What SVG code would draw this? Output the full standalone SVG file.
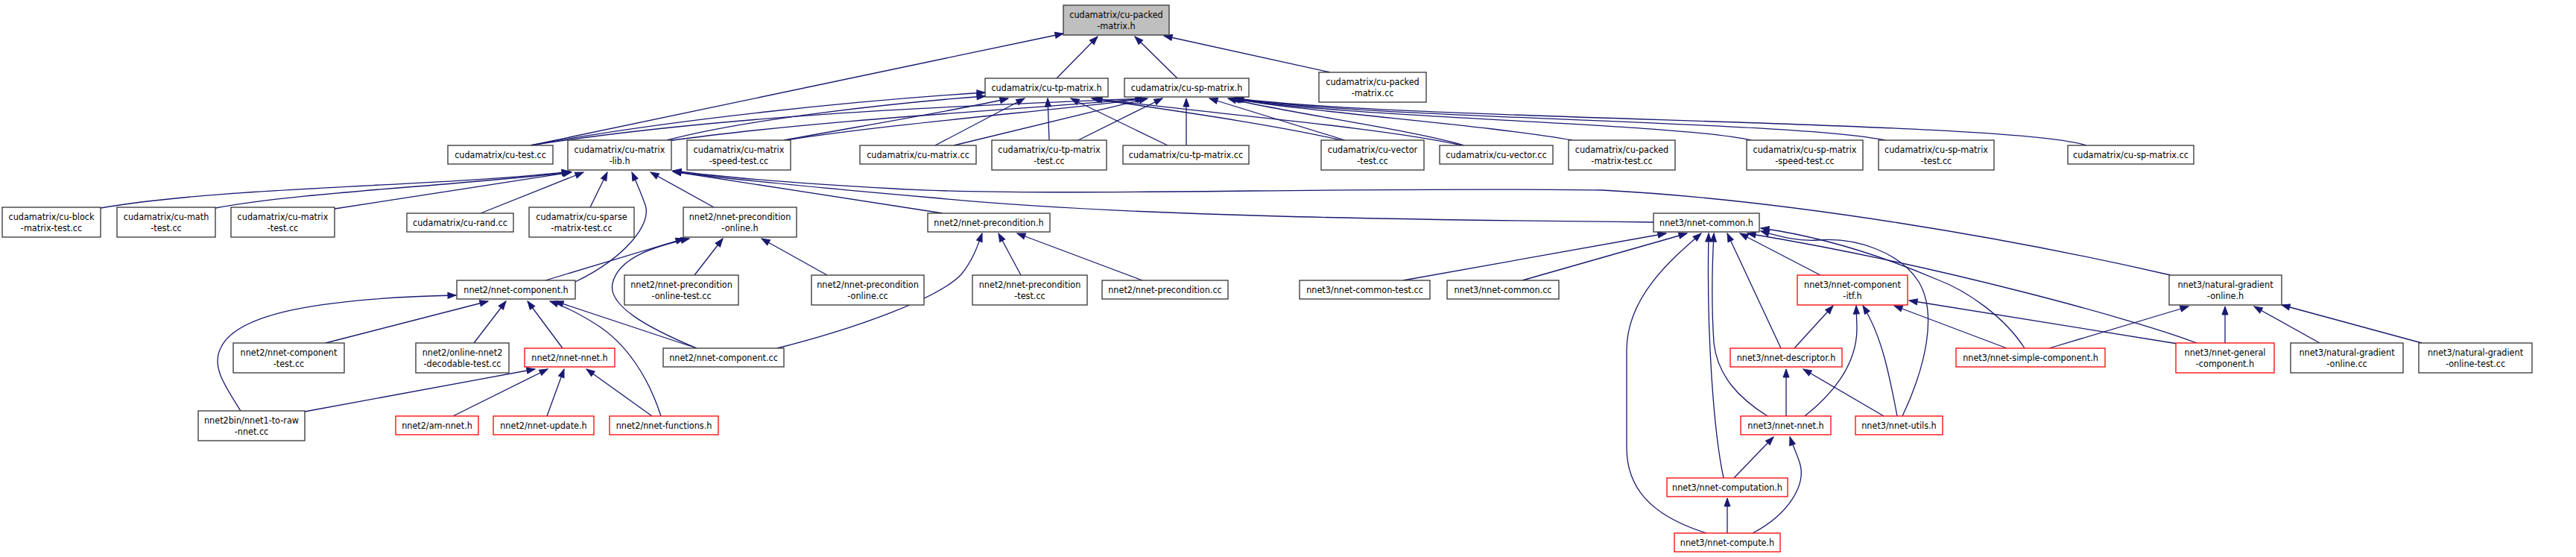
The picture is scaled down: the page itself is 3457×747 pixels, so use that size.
<svg xmlns="http://www.w3.org/2000/svg" width="3457" height="747" viewBox="0 0 3457 747">
<style>
.n rect{fill:#fff;stroke:#333;stroke-width:1.3}
.n.r rect{stroke:#f00}
.n.g rect{fill:#bfbfbf}
text{font-family:"DejaVu Sans Condensed","Liberation Sans",sans-serif;font-size:12.5px;text-anchor:middle;fill:#000}
#edges path{fill:none;stroke:#191970;stroke-width:1.3;marker-end:url(#ah)}
</style>
<defs>
<marker id="ah" markerUnits="userSpaceOnUse" markerWidth="13" markerHeight="10" refX="11" refY="4.5" orient="auto" overflow="visible">
<path d="M0,0.5 L11,4.5 L0,8.5 Z" fill="#191970" stroke="#191970" stroke-width="1"/>
</marker>
</defs>
<rect width="3457" height="747" fill="#fff"/>
<g id="edges">
<path d="M712,195 L1427,45"/>
<path d="M1418,105 L1473,49"/>
<path d="M1580,105 L1523,49"/>
<path d="M1785,97 L1562,48"/>
<path d="M712,195 C900,160 1150,135 1322,124"/>
<path d="M895,188 C1000,160 1200,138 1322,129"/>
<path d="M1052,188 C1150,170 1300,145 1353,132"/>
<path d="M1255,195 L1375,132"/>
<path d="M1408,188 L1406,132"/>
<path d="M1567,195 L1437,132"/>
<path d="M1800,188 C1700,165 1550,145 1465,132"/>
<path d="M1962,195 C1850,170 1600,150 1468,132"/>
<path d="M712,195 C1000,150 1350,140 1535,132"/>
<path d="M897,189 C1100,160 1400,145 1535,132"/>
<path d="M1055,188 C1200,165 1450,145 1537,132"/>
<path d="M1280,195 L1540,132"/>
<path d="M1447,188 L1560,132"/>
<path d="M1592,195 L1592,132"/>
<path d="M1805,188 L1623,132"/>
<path d="M1965,195 C1900,175 1720,150 1648,132"/>
<path d="M2110,188 C2000,168 1750,150 1652,132"/>
<path d="M2350,188 C2250,165 1800,158 1654,132"/>
<path d="M2530,188 C2400,162 1850,160 1656,132"/>
<path d="M2800,195 C2700,162 1900,162 1658,132"/>
<path d="M135,279 C300,250 600,250 765,230"/>
<path d="M289,279 C400,258 600,250 766,231"/>
<path d="M449,280 L767,231"/>
<path d="M645,286 L783,231"/>
<path d="M792,278 L815,231"/>
<path d="M772,378 C840,345 875,300 866,275 C860,258 853,242 848,231"/>
<path d="M958,278 L873,231"/>
<path d="M1265,286 L903,230"/>
<path d="M2219,298 C1900,295 1500,290 1250,265 C1100,252 960,238 903,230"/>
<path d="M2913,369 C2700,320 2400,268 2150,255 C1800,250 1400,265 1200,253 C1050,245 950,235 903,229"/>
<path d="M732,376 L918,320"/>
<path d="M935,467 C870,440 815,410 822,380 C830,345 880,330 925,320"/>
<path d="M932,369 L970,320"/>
<path d="M1110,369 L1022,320"/>
<path d="M1043,467 C1150,440 1260,400 1290,368 C1305,350 1312,330 1318,313"/>
<path d="M1370,369 L1340,313"/>
<path d="M1533,376 L1365,313"/>
<path d="M323,551 C300,515 283,490 297,465 C320,420 430,400 612,396"/>
<path d="M437,460 L655,404"/>
<path d="M636,460 L679,404"/>
<path d="M755,467 L708,404"/>
<path d="M887,558 C870,505 840,460 800,435 C778,421 758,411 738,404"/>
<path d="M935,467 L745,404"/>
<path d="M409,552 L718,495"/>
<path d="M608,558 L735,495"/>
<path d="M734,558 L757,495"/>
<path d="M875,558 L787,495"/>
<path d="M1883,376 L2236,313"/>
<path d="M2043,376 L2264,313"/>
<path d="M2290,715 C2210,690 2183,650 2183,600 L2183,470 C2183,400 2240,350 2283,313"/>
<path d="M2313,641 C2300,580 2290,450 2293,313"/>
<path d="M2372,558 C2335,535 2305,505 2300,460 C2296,400 2298,350 2300,313"/>
<path d="M2390,467 L2318,313"/>
<path d="M2443,369 L2335,313"/>
<path d="M2948,460 C2870,430 2600,355 2345,313"/>
<path d="M2717,467 C2690,425 2640,390 2600,375 C2530,345 2450,318 2363,306"/>
<path d="M2553,558 C2585,490 2600,420 2575,378 C2550,338 2490,318 2440,322 C2410,324 2385,316 2363,310"/>
<path d="M2408,467 L2460,410"/>
<path d="M2422,558 C2470,520 2492,480 2492,440 L2491,410"/>
<path d="M2546,558 C2535,500 2525,450 2500,410"/>
<path d="M2693,467 L2542,410"/>
<path d="M2922,461 L2562,403"/>
<path d="M2750,467 L2937,411"/>
<path d="M2986,460 L2986,411"/>
<path d="M3113,460 L3025,411"/>
<path d="M3250,460 L3062,409"/>
<path d="M2397,558 L2397,495"/>
<path d="M2528,558 L2420,495"/>
<path d="M2327,641 L2380,586"/>
<path d="M2352,715 C2400,690 2425,650 2415,620 C2410,605 2405,595 2402,586"/>
<path d="M2318,715 L2318,668"/>
</g>
<g id="n0" class="n g"><rect x="1427" y="7" width="142" height="40"/><text x="1498" y="23.5">cudamatrix/cu-packed</text><text x="1498" y="38.5">-matrix.h</text></g>
<g id="n1" class="n"><rect x="1322" y="105" width="165" height="25"/><text x="1404.5" y="121.5">cudamatrix/cu-tp-matrix.h</text></g>
<g id="n2" class="n"><rect x="1509" y="105" width="167" height="25"/><text x="1592.5" y="121.5">cudamatrix/cu-sp-matrix.h</text></g>
<g id="n3" class="n"><rect x="1770" y="97" width="144" height="40"/><text x="1842" y="113.5">cudamatrix/cu-packed</text><text x="1842" y="128.5">-matrix.cc</text></g>
<g id="n4" class="n"><rect x="601" y="195" width="141" height="25"/><text x="671.5" y="211.5">cudamatrix/cu-test.cc</text></g>
<g id="n5" class="n"><rect x="762" y="188" width="139" height="40"/><text x="831.5" y="204.5">cudamatrix/cu-matrix</text><text x="831.5" y="219.5">-lib.h</text></g>
<g id="n6" class="n"><rect x="922" y="188" width="139" height="40"/><text x="991.5" y="204.5">cudamatrix/cu-matrix</text><text x="991.5" y="219.5">-speed-test.cc</text></g>
<g id="n7" class="n"><rect x="1154" y="195" width="156" height="25"/><text x="1232" y="211.5">cudamatrix/cu-matrix.cc</text></g>
<g id="n8" class="n"><rect x="1331" y="188" width="154" height="40"/><text x="1408" y="204.5">cudamatrix/cu-tp-matrix</text><text x="1408" y="219.5">-test.cc</text></g>
<g id="n9" class="n"><rect x="1507" y="195" width="169" height="25"/><text x="1591.5" y="211.5">cudamatrix/cu-tp-matrix.cc</text></g>
<g id="n10" class="n"><rect x="1773" y="188" width="138" height="40"/><text x="1842" y="204.5">cudamatrix/cu-vector</text><text x="1842" y="219.5">-test.cc</text></g>
<g id="n11" class="n"><rect x="1932" y="195" width="152" height="25"/><text x="2008" y="211.5">cudamatrix/cu-vector.cc</text></g>
<g id="n12" class="n"><rect x="2105" y="188" width="143" height="40"/><text x="2176.5" y="204.5">cudamatrix/cu-packed</text><text x="2176.5" y="219.5">-matrix-test.cc</text></g>
<g id="n13" class="n"><rect x="2344" y="188" width="156" height="40"/><text x="2422" y="204.5">cudamatrix/cu-sp-matrix</text><text x="2422" y="219.5">-speed-test.cc</text></g>
<g id="n14" class="n"><rect x="2521" y="188" width="155" height="40"/><text x="2598.5" y="204.5">cudamatrix/cu-sp-matrix</text><text x="2598.5" y="219.5">-test.cc</text></g>
<g id="n15" class="n"><rect x="2775" y="195" width="169" height="25"/><text x="2859.5" y="211.5">cudamatrix/cu-sp-matrix.cc</text></g>
<g id="n16" class="n"><rect x="3" y="278" width="132" height="40"/><text x="69" y="294.5">cudamatrix/cu-block</text><text x="69" y="309.5">-matrix-test.cc</text></g>
<g id="n17" class="n"><rect x="157" y="278" width="132" height="40"/><text x="223" y="294.5">cudamatrix/cu-math</text><text x="223" y="309.5">-test.cc</text></g>
<g id="n18" class="n"><rect x="310" y="278" width="139" height="40"/><text x="379.5" y="294.5">cudamatrix/cu-matrix</text><text x="379.5" y="309.5">-test.cc</text></g>
<g id="n19" class="n"><rect x="546" y="286" width="143" height="25"/><text x="617.5" y="302.5">cudamatrix/cu-rand.cc</text></g>
<g id="n20" class="n"><rect x="710" y="278" width="141" height="40"/><text x="780.5" y="294.5">cudamatrix/cu-sparse</text><text x="780.5" y="309.5">-matrix-test.cc</text></g>
<g id="n21" class="n"><rect x="917" y="278" width="152" height="40"/><text x="993" y="294.5">nnet2/nnet-precondition</text><text x="993" y="309.5">-online.h</text></g>
<g id="n22" class="n"><rect x="1245" y="286" width="164" height="25"/><text x="1327" y="302.5">nnet2/nnet-precondition.h</text></g>
<g id="n23" class="n"><rect x="2219" y="286" width="142" height="25"/><text x="2290" y="302.5">nnet3/nnet-common.h</text></g>
<g id="n24" class="n"><rect x="613" y="376" width="159" height="25"/><text x="692.5" y="392.5">nnet2/nnet-component.h</text></g>
<g id="n25" class="n"><rect x="838" y="369" width="153" height="40"/><text x="914.5" y="385.5">nnet2/nnet-precondition</text><text x="914.5" y="400.5">-online-test.cc</text></g>
<g id="n26" class="n"><rect x="1089" y="369" width="151" height="40"/><text x="1164.5" y="385.5">nnet2/nnet-precondition</text><text x="1164.5" y="400.5">-online.cc</text></g>
<g id="n27" class="n"><rect x="1305" y="369" width="154" height="40"/><text x="1382" y="385.5">nnet2/nnet-precondition</text><text x="1382" y="400.5">-test.cc</text></g>
<g id="n28" class="n"><rect x="1479" y="376" width="169" height="25"/><text x="1563.5" y="392.5">nnet2/nnet-precondition.cc</text></g>
<g id="n29" class="n"><rect x="1744" y="376" width="175" height="25"/><text x="1831.5" y="392.5">nnet3/nnet-common-test.cc</text></g>
<g id="n30" class="n"><rect x="1942" y="376" width="150" height="25"/><text x="2017" y="392.5">nnet3/nnet-common.cc</text></g>
<g id="n31" class="n r"><rect x="2412" y="369" width="148" height="40"/><text x="2486" y="385.5">nnet3/nnet-component</text><text x="2486" y="400.5">-itf.h</text></g>
<g id="n32" class="n"><rect x="2911" y="369" width="151" height="40"/><text x="2986.5" y="385.5">nnet3/natural-gradient</text><text x="2986.5" y="400.5">-online.h</text></g>
<g id="n33" class="n"><rect x="313" y="460" width="149" height="40"/><text x="387.5" y="476.5">nnet2/nnet-component</text><text x="387.5" y="491.5">-test.cc</text></g>
<g id="n34" class="n"><rect x="558" y="460" width="125" height="40"/><text x="620.5" y="476.5">nnet2/online-nnet2</text><text x="620.5" y="491.5">-decodable-test.cc</text></g>
<g id="n35" class="n r"><rect x="704" y="467" width="121" height="25"/><text x="764.5" y="483.5">nnet2/nnet-nnet.h</text></g>
<g id="n36" class="n"><rect x="890" y="467" width="162" height="25"/><text x="971" y="483.5">nnet2/nnet-component.cc</text></g>
<g id="n37" class="n r"><rect x="2322" y="467" width="150" height="25"/><text x="2397" y="483.5">nnet3/nnet-descriptor.h</text></g>
<g id="n38" class="n r"><rect x="2625" y="467" width="200" height="25"/><text x="2725" y="483.5">nnet3/nnet-simple-component.h</text></g>
<g id="n39" class="n r"><rect x="2920" y="460" width="132" height="40"/><text x="2986" y="476.5">nnet3/nnet-general</text><text x="2986" y="491.5">-component.h</text></g>
<g id="n40" class="n"><rect x="3074" y="460" width="151" height="40"/><text x="3149.5" y="476.5">nnet3/natural-gradient</text><text x="3149.5" y="491.5">-online.cc</text></g>
<g id="n41" class="n"><rect x="3246" y="460" width="152" height="40"/><text x="3322" y="476.5">nnet3/natural-gradient</text><text x="3322" y="491.5">-online-test.cc</text></g>
<g id="n42" class="n"><rect x="266" y="551" width="143" height="40"/><text x="337.5" y="567.5">nnet2bin/nnet1-to-raw</text><text x="337.5" y="582.5">-nnet.cc</text></g>
<g id="n43" class="n r"><rect x="531" y="558" width="111" height="25"/><text x="586.5" y="574.5">nnet2/am-nnet.h</text></g>
<g id="n44" class="n r"><rect x="662" y="558" width="135" height="25"/><text x="729.5" y="574.5">nnet2/nnet-update.h</text></g>
<g id="n45" class="n r"><rect x="818" y="558" width="146" height="25"/><text x="891" y="574.5">nnet2/nnet-functions.h</text></g>
<g id="n46" class="n r"><rect x="2336" y="558" width="121" height="25"/><text x="2396.5" y="574.5">nnet3/nnet-nnet.h</text></g>
<g id="n47" class="n r"><rect x="2490" y="558" width="117" height="25"/><text x="2548.5" y="574.5">nnet3/nnet-utils.h</text></g>
<g id="n48" class="n r"><rect x="2237" y="641" width="162" height="25"/><text x="2318" y="657.5">nnet3/nnet-computation.h</text></g>
<g id="n49" class="n r"><rect x="2247" y="715" width="142" height="25"/><text x="2318" y="731.5">nnet3/nnet-compute.h</text></g>
</svg>
